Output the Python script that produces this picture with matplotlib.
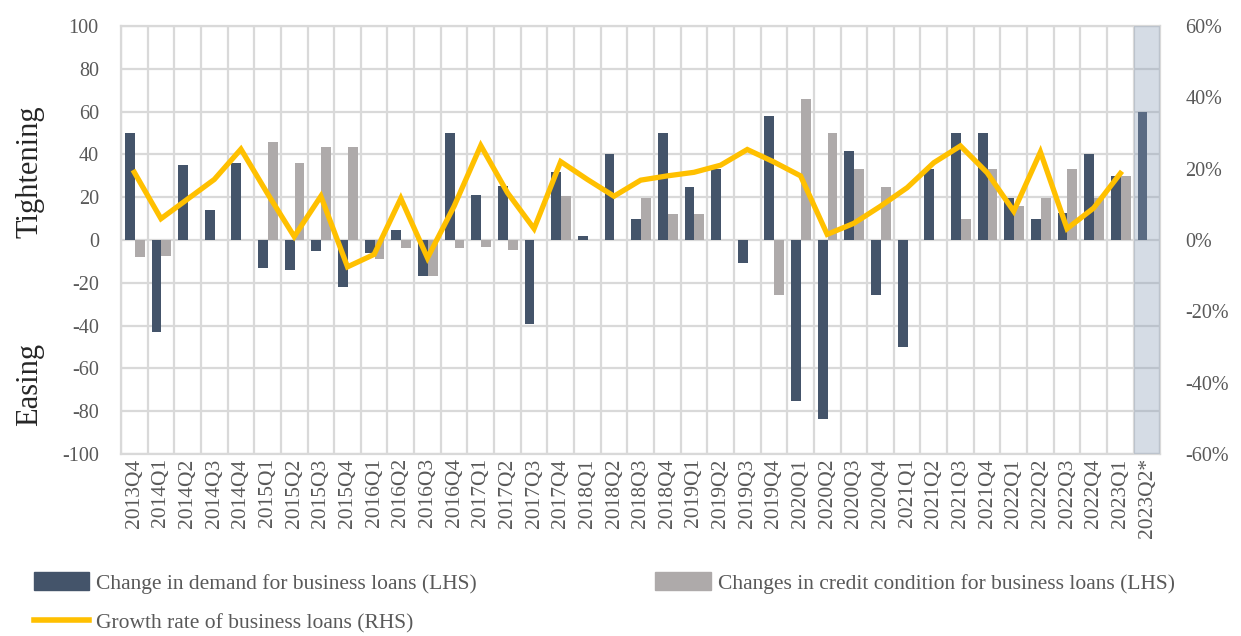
import numpy as np
import matplotlib
matplotlib.use('Agg')
import matplotlib.pyplot as plt
from matplotlib.patches import Patch
from matplotlib.lines import Line2D

plt.rcParams['font.family'] = ['Liberation Serif', 'DejaVu Serif']
plt.rcParams['axes.unicode_minus'] = False

quarters = ['2013Q4',
            '2014Q1', '2014Q2', '2014Q3', '2014Q4',
            '2015Q1', '2015Q2', '2015Q3', '2015Q4',
            '2016Q1', '2016Q2', '2016Q3', '2016Q4',
            '2017Q1', '2017Q2', '2017Q3', '2017Q4',
            '2018Q1', '2018Q2', '2018Q3', '2018Q4',
            '2019Q1', '2019Q2', '2019Q3', '2019Q4',
            '2020Q1', '2020Q2', '2020Q3', '2020Q4',
            '2021Q1', '2021Q2', '2021Q3', '2021Q4',
            '2022Q1', '2022Q2', '2022Q3', '2022Q4',
            '2023Q1', '2023Q2*']

# change in demand for business loans (LHS)
demand = [50, -43, 35, 14, 36, -13, -14, -5, -22, -6, 4.5, -17, 50,
          21, 25.5, -39, 32, 2, 40, 10, 50, 25, 33, -10.5, 58,
          -75, -83.5, 41.5, -25.5, -50, 33, 50, 50, 19.5, 10, 12.5, 40,
          30, 60]

# changes in credit condition for business loans (LHS)
credit = [-8, -7.5, 0, 0, 0, 46, 36, 43.5, 43.5, -9, -3.5, -17, -3.5,
          -3, -4.5, 0, 20.5, 0, 0, 19.5, 12, 12, 0, 0, -25.5,
          66, 50, 33, 25, 0, 0, 10, 33, 16, 19.5, 33, 19.5,
          30, np.nan]

# growth rate of business loans (RHS, %)
growth = [19, 6, 11.5, 17, 25.5, 13, 1, 12.3, -7.5, -4, 11.7, -5, 9.5,
          26.5, 13.3, 3.2, 22, 17, 12.3, 16.8, 18, 19, 21, 25.4, 21.9,
          18, 1.6, 4.7, 9.5, 14.7, 21.7, 26.4, 18.9, 8.1, 24.7, 3.2, 9,
          18.7, np.nan]

dark = '#44546a'
grey = '#aeaaaa'
gold = '#ffc000'
gridc = '#d9d9d9'
txt = '#595959'

x = np.arange(len(quarters))
w = 0.37

fig = plt.figure(figsize=(12.41, 6.36), dpi=100)
ax = fig.add_axes([0.0975, 0.286, 0.8375, 0.673])

ax.bar(x - 0.17, demand, width=w, color=dark, zorder=3)
ax.bar(x + 0.2, credit, width=w, color=grey, zorder=3)

ax.set_xlim(-0.5, len(quarters) - 0.5)
ax.set_ylim(-100, 100)
ax.set_yticks(np.arange(-100, 101, 20))
ax.set_xticks(x)
ax.set_xticklabels(quarters, rotation=90, fontsize=15.5, color=txt)
ax.set_xticks(np.arange(-0.5, len(quarters), 1), minor=True)
ax.tick_params(axis='y', labelsize=14.5, labelcolor=txt, length=0, pad=16)
ax.tick_params(axis='x', which='both', length=0, pad=3)
ax.grid(axis='y', which='major', color=gridc, lw=1.6, zorder=0)
ax.grid(axis='x', which='minor', color=gridc, lw=1.6, zorder=0)
for s in ax.spines.values():
    s.set_color(gridc)
    s.set_linewidth(1.6)

ax2 = ax.twinx()
ax2.plot(x, growth, color=gold, lw=3.8, zorder=4, solid_joinstyle='miter')
ax2.set_ylim(-60, 60)
ax2.set_yticks(np.arange(-60, 61, 20))
ax2.set_yticklabels([f'{v}%' for v in range(-60, 61, 20)])
ax2.tick_params(axis='y', labelsize=14.5, labelcolor=txt, length=0, pad=18)
for s in ax2.spines.values():
    s.set_visible(False)

# forecast quarter shading
ax2.axvspan(len(quarters) - 1.5, len(quarters) - 0.5, color='#859ab5', alpha=0.34, lw=0, zorder=5)

fig.text(0.024, 0.73, 'Tightening', rotation=90, fontsize=22, color='#262626',
         ha='center', va='center')
fig.text(0.024, 0.395, 'Easing', rotation=90, fontsize=22, color='#262626',
         ha='center', va='center')

handles = [Patch(color=dark), Line2D([], [], color=gold, lw=4), Patch(color=grey)]
labels = ['Change in demand for business loans (LHS)',
          'Growth rate of business loans (RHS)',
          'Changes in credit condition for business loans (LHS)']
leg = fig.legend(handles, labels, ncol=2, loc='upper left', bbox_to_anchor=(0.027, 0.1),
                 frameon=False, fontsize=15.5, handlelength=2.6, handleheight=0.9,
                 handletextpad=0.3, columnspacing=8.3, labelspacing=0.85,
                 borderaxespad=0, borderpad=0)
for t in leg.get_texts():
    t.set_color(txt)

fig.savefig('out.png', dpi=100)
